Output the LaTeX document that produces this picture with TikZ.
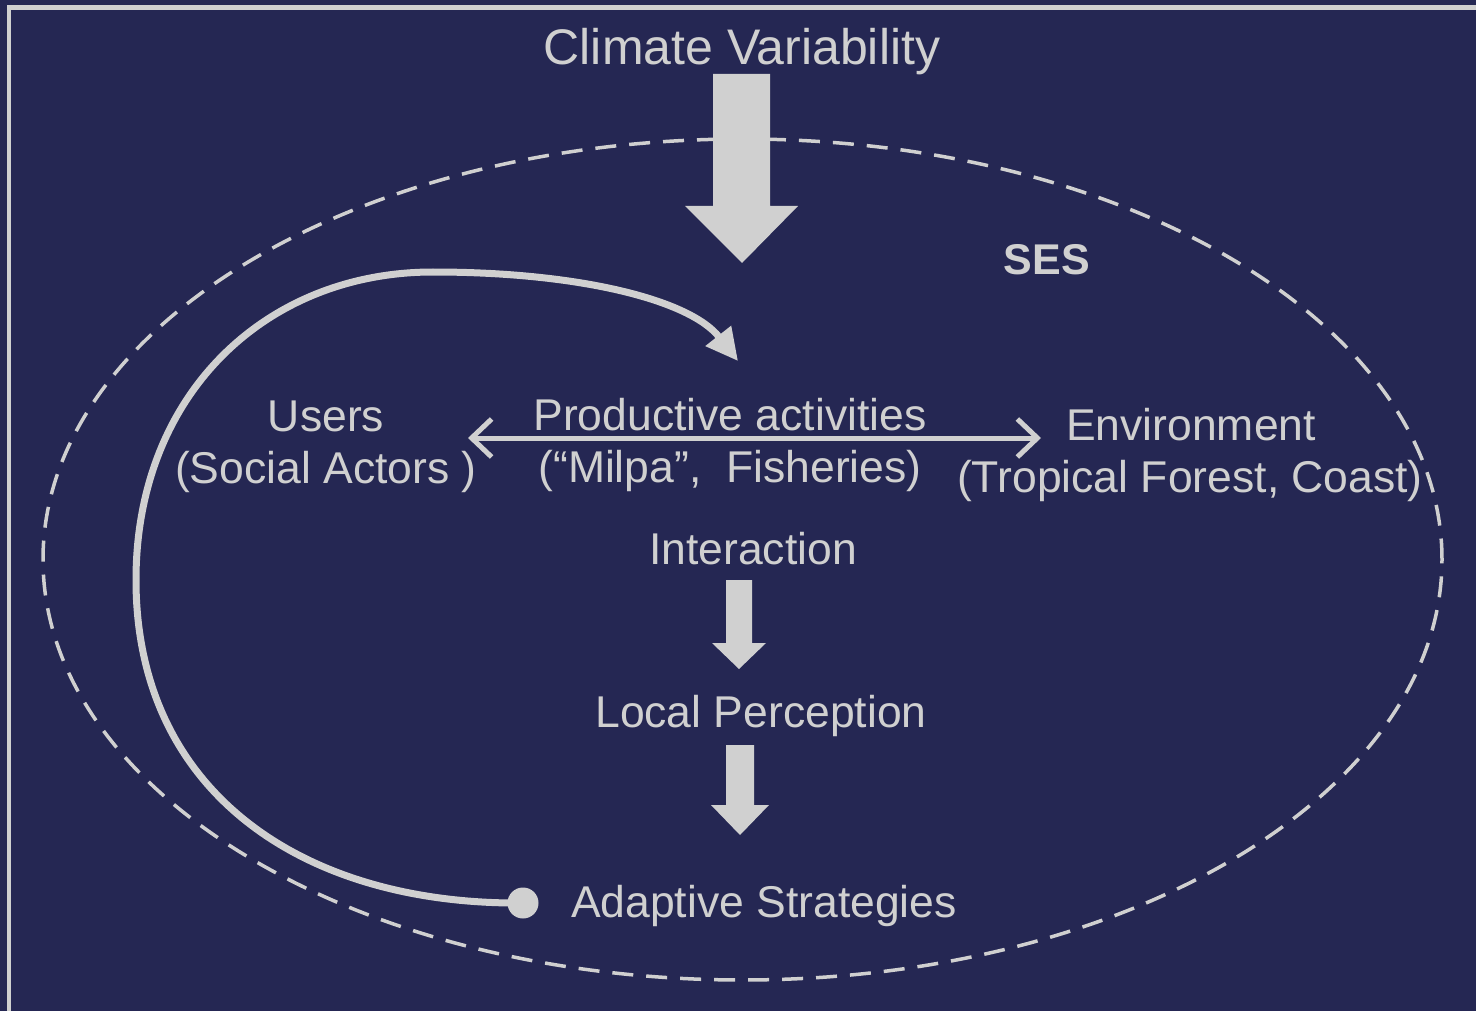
\documentclass[tikz,border=0pt]{standalone}
\usepackage{fontspec}
\setmainfont{Liberation Sans}
\usetikzlibrary{arrows.meta}
\definecolor{navy}{RGB}{37,39,83}
\definecolor{chalk}{RGB}{208,208,208}
\tikzset{
	lbl/.style={text=chalk,inner sep=0pt,anchor=base,font=\fontsize{44.5}{52}\selectfont},
	blockarrow/.style={fill=chalk},
	barbs/.style={{Straight Barb[length=20pt,width=38pt]}-{Straight Barb[length=20pt,width=38pt]}}
}

\begin{document}
\begin{tikzpicture}[x=1pt,y=-1pt]
				\fill [navy](0,0)rectangle(1476,1011);
				\useasboundingbox (0,0)rectangle(1476,1011);
				\draw [chalk,line width=4.5pt](9,1011)--(9,7.5)--(1476,7.5);
				% the SES boundary
				\draw [chalk,line width=3.5pt,dash pattern=on 21pt off 13pt](742.5,559.5)ellipse(699.5pt and 420.5pt);
				
				\node [lbl,font=\fontsize{50}{58}\selectfont](clim) at (742,65){Climate Variability};
				\node [lbl,font=\bfseries\fontsize{43}{50}\selectfont](ses) at (1047,275){SES};
				\node [lbl](users) at (326,431){Users};
				\node [lbl](actors) at (326,483){(Social Actors )};
				\node [lbl](prod) at (730,430){Productive activities};
				\node [lbl](milpa) at (730,482){(“Milpa”,\ \ Fisheries)};
				\node [lbl](env) at (1191,440){Environment};
				\node [lbl](forest) at (1190,492){(Tropical Forest, Coast)};
				\node [lbl](inter) at (753,564){Interaction};
				\node [lbl](perc) at (761,727){Local Perception};
				\node [lbl](adapt) at (764,917){Adaptive Strategies};
				
				% block arrows
				\fill [blockarrow](713,74)--(770,74)--(770,206)--(798,206)--(742,263)--(685,206)--(713,206)--cycle;
				\fill [blockarrow](726,580)--(752,580)--(752,643)--(766,643)--(739,669)--(712,643)--(726,643)--cycle;
				\fill [blockarrow](726,745)--(754,745)--(754,805)--(769,805)--(740,835)--(711,805)--(726,805)--cycle;
				
				\coordinate (actL) at (468,438);
				\coordinate (actR) at (1041,438);
				\draw [chalk,line width=5pt,barbs](actL)--(actR);
				
				% feedback loop
				\node [circle,fill=chalk,minimum size=31pt,inner sep=0pt](dot) at (523,903){};
				\coordinate (loop) at (738,361);
				\draw [chalk,line width=7pt,-{Triangle[length=32pt,width=31pt]}](dot.center)..controls(300,905)and(136,790)..(136,580)..controls(136,395)and(265,272)..(433,272)..controls(580,272)and(690,300)..(loop);
				
			\end{tikzpicture}
\end{document}
